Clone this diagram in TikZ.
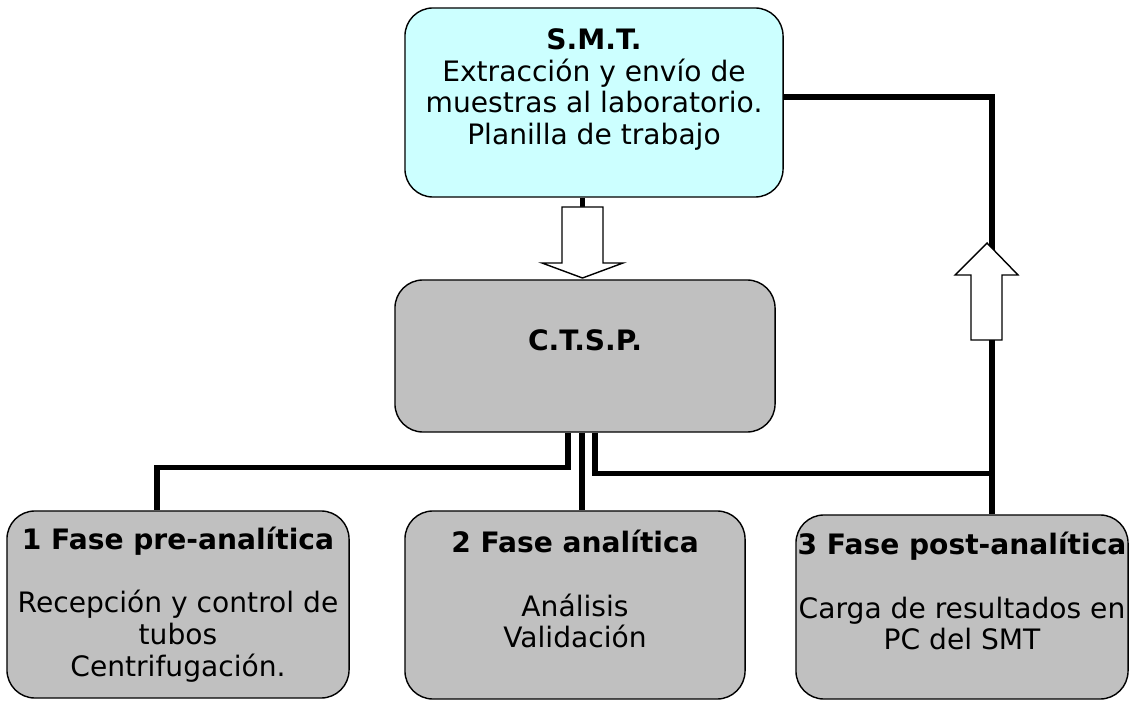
\documentclass[tikz,border=0pt]{standalone}
\usepackage{fontspec}
\setmainfont{DejaVu Sans}
\usetikzlibrary{calc,positioning}
\definecolor{smtcyan}{HTML}{CCFFFF}
\definecolor{boxgray}{HTML}{C0C0C0}
\tikzset{
	phase box/.style={
		draw,
		rounded corners=0.7cm,
		line width=1pt,
		fill=boxgray,
		align=center,
		inner sep=0pt,
		font=\fontsize{20pt}{22.5pt}\selectfont,
	},
	conn/.style={line width=3.6pt},
	block arrow/.style={draw, fill=white, line width=1pt},
}
\begin{document}
\begin{tikzpicture}[x=0.025cm, y=-0.025cm]
\useasboundingbox (0,0) rectangle (1131,701);

\node[phase box, fill=smtcyan, minimum width=9.45cm, minimum height=4.725cm] (smt) at (594,102.5)
	{\textbf{S.M.T.}\\Extracción y envío de\\muestras al laboratorio.\\Planilla de trabajo\\ \mbox{}};
\node[phase box, minimum width=9.5cm, minimum height=3.8cm] (ctsp) at (585,356)
	{\textbf{C.T.S.P.}\\ \mbox{}};

\node[phase box, minimum width=8.55cm, minimum height=4.675cm] (f1) at (178,604.5)
	{\textbf{1 Fase pre-analítica}\\ \mbox{}\\Recepción y control de\\tubos\\Centrifugación.};
\node[phase box, minimum width=8.5cm, minimum height=4.7cm] (f2) at (575,605)
	{\textbf{2 Fase analítica}\\ \mbox{}\\Análisis\\Validación\\ \mbox{}};
\node[phase box, minimum width=8.3cm, minimum height=4.6cm] (f3) at (962,607)
	{\textbf{3 Fase post-analítica}\\ \mbox{}\\Carga de resultados en\\PC del SMT\\ \mbox{}};

% fixed points of the connectors
\coordinate (dnTop) at (582.5,207);
\coordinate (upTip) at (992,250);
\coordinate (upFoot) at (992,340);
\coordinate (cL) at ($(ctsp.south)+(-17,0)$);
\coordinate (cM) at ($(ctsp.south)+(-3,0)$);
\coordinate (cR) at ($(ctsp.south)+(10,0)$);
\coordinate (jL) at ($(f1.north)+(-21,-43)$);
\coordinate (jR) at ($(cR)+(0,41)$);

\draw[conn] (smt.south -| dnTop) -- (dnTop);
\draw[conn] ($(smt.east)+(0,-5.5)$) -| (upTip);
\draw[conn] (upFoot) -- (upFoot |- f3.north);
\draw[conn] (cL) |- (jL) -- (jL |- f1.north);
\draw[conn] (cM) -- (cM |- f2.north);
\draw[conn] (cR) -- (jR) -- (jR -| upFoot);

% hollow block arrows
\draw[block arrow] (562,207) -- (603,207) -- (603,263) -- (623,263) -- (582.5,278)
	-- (542,263) -- (562,263) -- cycle;
\draw[block arrow] (987,243) -- (1018,275) -- (1002,275) -- (1002,340) -- (971,340)
	-- (971,275) -- (955,275) -- cycle;
\end{tikzpicture}
\end{document}
